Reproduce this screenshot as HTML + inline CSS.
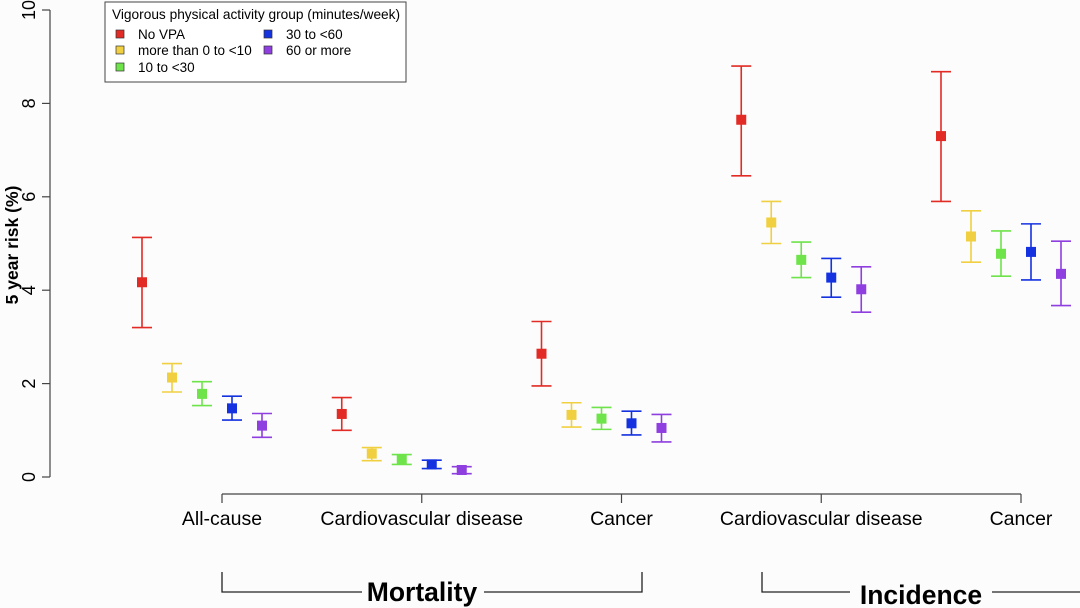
<!DOCTYPE html>
<html><head><meta charset="utf-8"><style>
body{margin:0;background:#fff;}
svg{display:block;font-family:"Liberation Sans",Arial,sans-serif;}
</style></head><body>
<svg id="c" width="1080" height="608">
<rect width="1080" height="608" fill="#fcfcfc"/>
<g id="yaxis"></g>
<text transform="translate(18,245) rotate(-90)" text-anchor="middle" font-size="17.5" font-weight="bold">5 year risk (%)</text>
<g id="xaxis"></g>
<g id="marks"></g>
<g stroke="#222" stroke-width="1.3" fill="none">
<path d="M222,572 V592 H362 M484,592 H642 V572"/>
</g>
<text x="422" y="601" text-anchor="middle" font-size="26.5" font-weight="bold">Mortality</text>
<g stroke="#222" stroke-width="1.3" fill="none">
<path d="M762,572 V592 H850 M992,592 H1080"/>
</g>
<text x="921" y="604" text-anchor="middle" font-size="26.5" font-weight="bold">Incidence</text>
<g>
<rect x="105" y="2" width="301" height="80" fill="#fff" stroke="#444" stroke-width="1"/>
<text x="112" y="19" font-size="13.7">Vigorous physical activity group (minutes/week)</text>
<g id="leg"></g>
</g>
</svg>
<script>
const categories=["All-cause","Cardiovascular disease","Cancer","Cardiovascular disease","Cancer"];
const groups=["No VPA","more than 0 to <10","10 to <30","30 to <60","60 or more"];
const colors=["#e22b25","#f0d040","#6ee34a","#1432e0","#8f3ee0"];
const estimates=[[4.17,2.13,1.78,1.47,1.10],[1.35,0.50,0.38,0.27,0.15],[2.64,1.33,1.25,1.15,1.05],[7.65,5.45,4.65,4.27,4.02],[7.30,5.15,4.78,4.82,4.35]];
const lower=[[3.20,1.82,1.53,1.22,0.85],[1.00,0.35,0.27,0.18,0.07],[1.95,1.07,1.02,0.90,0.75],[6.45,5.00,4.27,3.85,3.53],[5.90,4.60,4.30,4.22,3.67]];
const upper=[[5.13,2.43,2.04,1.73,1.36],[1.70,0.63,0.48,0.36,0.22],[3.33,1.59,1.49,1.41,1.34],[8.80,5.90,5.03,4.68,4.50],[8.68,5.70,5.27,5.42,5.05]];
const yTicks=[0,2,4,6,8,10];
const NS="http://www.w3.org/2000/svg";
function y(v){return 477-46.7*v;}
function xc(i){return 222+199.75*i;}
function xp(i,j){return xc(i)-80+30*j;}
function mk(t,a,p){const e=document.createElementNS(NS,t);for(const k in a)e.setAttribute(k,a[k]);(p||document.getElementById('c')).appendChild(e);return e;}
const ya=document.getElementById('yaxis');
mk('line',{x1:50,x2:50,y1:y(10),y2:y(0),stroke:'#444','stroke-width':1.2},ya);
yTicks.forEach(t=>{
 const l=mk('line',{x1:42,x2:50,y1:y(t),y2:y(t),stroke:'#444','stroke-width':1.2},ya);
 
 
 const tx=mk('text',{transform:`translate(35,${y(t)}) rotate(-90)`,'text-anchor':'middle','font-size':18},ya);
 tx.textContent=t;
 
 
});
const xa=document.getElementById('xaxis');
mk('line',{x1:xc(0),x2:xc(4),y1:494,y2:494,stroke:'#444','stroke-width':1.2},xa);
categories.forEach((c,i)=>{
 const l=mk('line',{x1:xc(i),x2:xc(i),y1:494,y2:503,stroke:'#444','stroke-width':1.2},xa);
 
 
 const tx=mk('text',{x:xc(i),y:525,'text-anchor':'middle','font-size':19.5},xa);
 tx.textContent=c;
 
 
});
const mg=document.getElementById('marks');
estimates.forEach((row,i)=>row.forEach((v,j)=>{
 const g=mk('g',{stroke:colors[j],'stroke-width':1.6,fill:colors[j]},mg);
 
 
 const x=xp(i,j);
 mk('line',{x1:x,x2:x,y1:y(lower[i][j]),y2:y(upper[i][j])},g);
 mk('line',{x1:x-10,x2:x+10,y1:y(lower[i][j]),y2:y(lower[i][j])},g);
 mk('line',{x1:x-10,x2:x+10,y1:y(upper[i][j]),y2:y(upper[i][j])},g);
 mk('rect',{x:x-5,y:y(v)-5,width:10,height:10,stroke:'none'},g);
}));
const lg=document.getElementById('leg');
const pos=[[116,34],[116,50],[116,67],[264,34],[264,50]];
groups.forEach((gname,j)=>{
 const [lx,ly]=pos[j];
 const r=mk('rect',{x:lx,y:ly-4,width:8,height:8,fill:colors[j],stroke:'#333','stroke-width':0.7},lg);
 
 
 const t=mk('text',{x:lx+22,y:ly+5,'font-size':13.5},lg);
 t.textContent=gname;
 
 
});
</script>
</body></html>
